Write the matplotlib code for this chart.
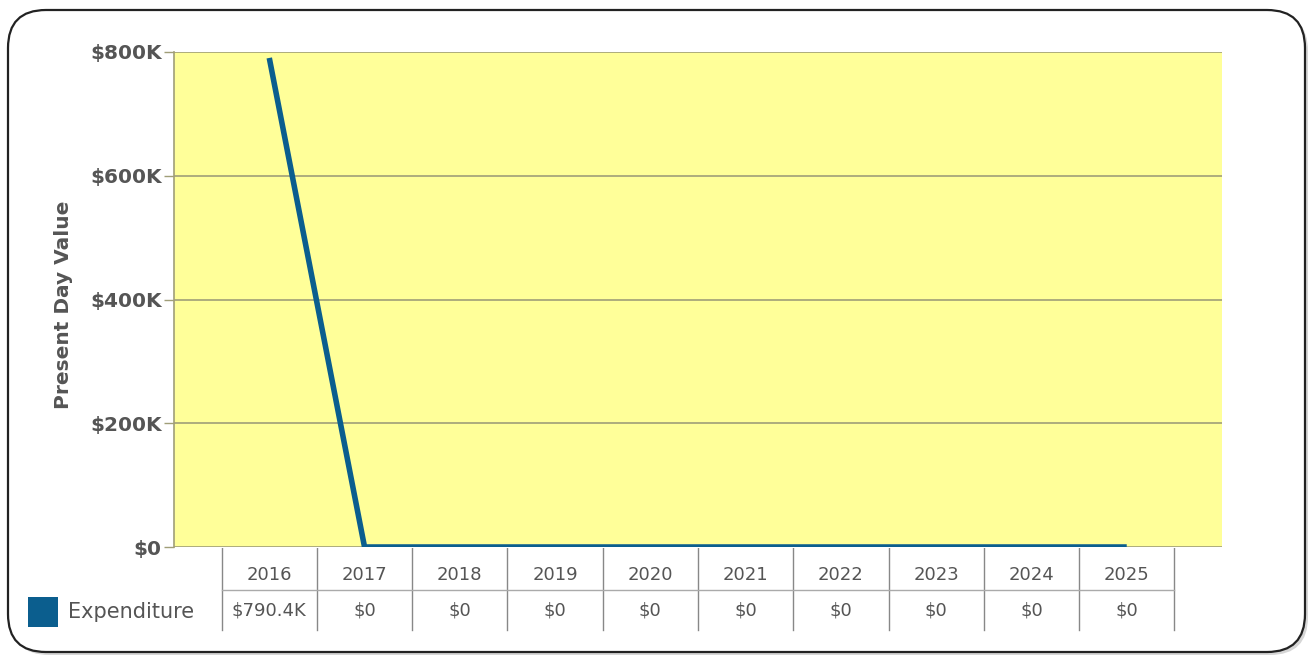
import matplotlib.pyplot as plt
from matplotlib.patches import FancyBboxPatch, Rectangle
from matplotlib.transforms import IdentityTransform
from matplotlib.ticker import FuncFormatter

years = [2016, 2017, 2018, 2019, 2020, 2021, 2022, 2023, 2024, 2025]
expenditure = [790400, 0, 0, 0, 0, 0, 0, 0, 0, 0]
value_labels = ['$790.4K', '$0', '$0', '$0', '$0', '$0', '$0', '$0', '$0', '$0']
series_name = 'Expenditure'

line_color = '#0b5e8e'
grid_color = '#a09e78'
text_color = '#555555'

fig = plt.figure(figsize=(13.09, 6.58), dpi=100)
fig.patch.set_facecolor('white')

# rounded frame with a soft shadow, kept behind the axes
shadow = FancyBboxPatch((11, 3), 1297, 642, boxstyle='round,pad=0,rounding_size=38',
                        transform=IdentityTransform(), facecolor='#bbbbbb',
                        edgecolor='none', alpha=0.6, zorder=-2)
frame = FancyBboxPatch((8, 6), 1297, 642, boxstyle='round,pad=0,rounding_size=38',
                       transform=IdentityTransform(), facecolor='white',
                       edgecolor='#222222', linewidth=1.6, zorder=-1)
fig.patches.extend([shadow, frame])

ax = fig.add_axes([174 / 1309, 111 / 658, 1048 / 1309, 495 / 658])
ax.set_facecolor('#ffff99')
ax.plot(years, expenditure, color=line_color, linewidth=4, solid_capstyle='butt', zorder=3)
ax.set_xlim(2015, 2026)
ax.set_ylim(0, 800000)
ax.set_yticks([0, 200000, 400000, 600000, 800000])
ax.yaxis.set_major_formatter(FuncFormatter(lambda v, p: '$0' if v == 0 else f'${v / 1000:.0f}K'))
ax.set_xticks([])
ax.grid(axis='y', color=grid_color, linewidth=1.2)
for s in ['top', 'right', 'bottom']:
    ax.spines[s].set_visible(False)
ax.spines['left'].set_color(grid_color)
ax.spines['left'].set_linewidth(1.2)
ax.tick_params(axis='y', colors=grid_color, length=7, width=1, pad=2,
               labelcolor=text_color, labelsize=14.5)
for lab in ax.get_yticklabels():
    lab.set_fontweight('bold')
ax.set_ylabel('Present Day Value', fontsize=14.5, fontweight='bold', color=text_color)
ax.yaxis.set_label_coords(-0.096, 0.49)

# data table under the chart, sharing the year positions
tab = fig.add_axes([174 / 1309, 26 / 658, 1048 / 1309, 84 / 658])
tab.set_xlim(2015, 2026)
tab.set_ylim(0, 2)
tab.axis('off')
lo, hi = years[0] - 0.5, years[-1] + 0.5
for i in range(len(years) + 1):
    tab.plot([lo + i, lo + i], [0.05, 2], color='#888888', linewidth=1)
tab.plot([lo, hi], [1, 1], color='#aaaaaa', linewidth=1)
for yr, lab in zip(years, value_labels):
    tab.text(yr, 1.36, str(yr), ha='center', va='center', fontsize=13, color=text_color)
    tab.text(yr, 0.5, lab, ha='center', va='center', fontsize=13, color=text_color)

# legend swatch and series name
fig.patches.append(Rectangle((28, 31), 30, 30, transform=IdentityTransform(),
                             facecolor=line_color, edgecolor='none'))
fig.text(68 / 1309, 46 / 658, series_name, ha='left', va='center', fontsize=15,
         color=text_color)

fig.savefig('out.png', dpi=100)
